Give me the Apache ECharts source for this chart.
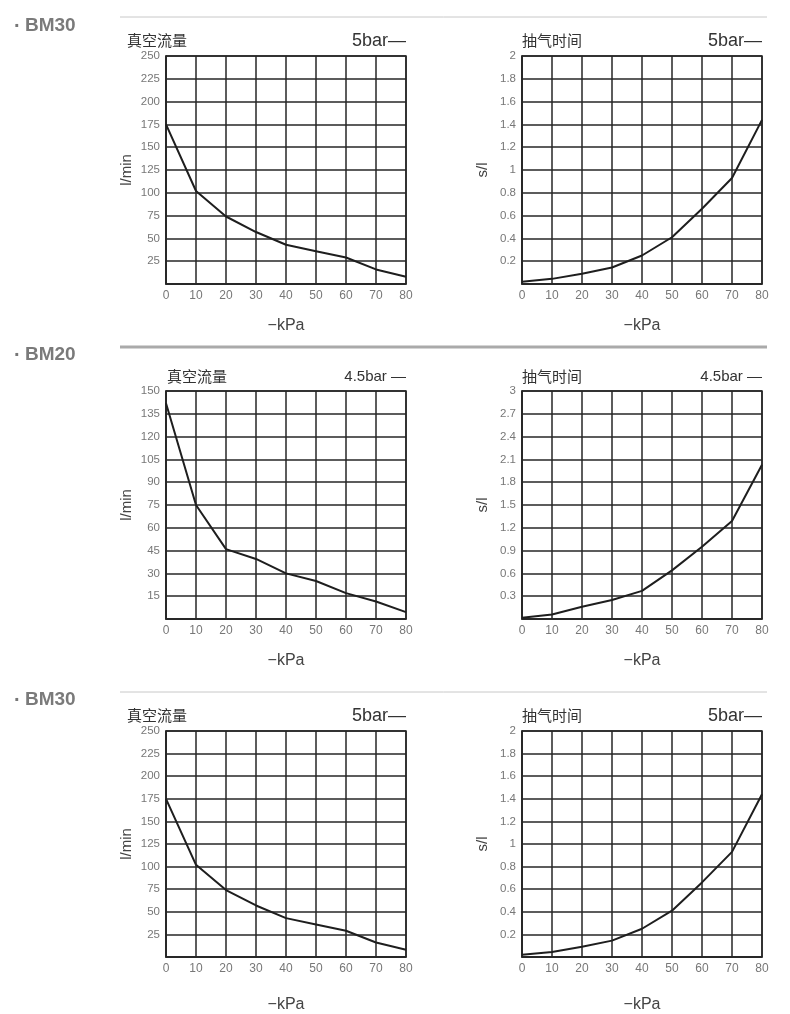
<!DOCTYPE html>
<html>
<head>
<meta charset="utf-8">
<script src="https://cdn.jsdelivr.net/npm/echarts@6/dist/echarts.min.js"></script>
<style>
html,body{margin:0;padding:0;background:#fff;}
#c{width:790px;height:1014px;}
</style>
</head>
<body>
<div id="c"></div>
<script>
// ---- data ----
const kPa = [0, 10, 20, 30, 40, 50, 60, 70, 80];
const bm30Flow = [175, 102, 74, 57, 43, 36, 29, 16, 8];
const bm30Time = [0.02, 0.045, 0.09, 0.145, 0.25, 0.41, 0.66, 0.93, 1.44];
const bm20Flow = [142, 75, 46, 39.5, 30, 25, 17, 11.5, 4.5];
const bm20Time = [0.015, 0.06, 0.16, 0.25, 0.37, 0.64, 0.95, 1.29, 2.03];
const sections = ['BM30', 'BM20', 'BM30'];
const flowTitle = '真空流量';
const timeTitle = '抽气时间';
const pressureLabels = ['5bar—', '4.5bar —', '5bar—'];
const flowAxes = [{max: 250, interval: 25}, {max: 150, interval: 15}, {max: 250, interval: 25}];
const timeAxes = [{max: 2, interval: 0.2}, {max: 3, interval: 0.3}, {max: 2, interval: 0.2}];

// ---- layout ----
const rowTops = [56, 391, 731];
const plotH = 228, plotW = 240;
const lefts = [166, 522];
const headerY = [25, 354, 699];
const ruleY = [17, 347, 692];
const ruleW = [1, 3, 1];
const titleY = [42, 378, 717];
const flowTitleX = [127, 167, 127];

const gridColor = '#262626';
const grids = [], xAxes = [], yAxes = [], series = [], graphics = [];

function fmtY(v) {
  if (v === 0) return '';
  return String(Math.round(v * 10) / 10);
}

for (let r = 0; r < 3; r++) {
  const flow = r === 1 ? bm20Flow : bm30Flow;
  const time = r === 1 ? bm20Time : bm30Time;
  for (let c = 0; c < 2; c++) {
    const gi = grids.length;
    grids.push({left: lefts[c], top: rowTops[r], width: plotW, height: plotH,
      show: true, borderColor: gridColor, borderWidth: 1.5, backgroundColor: 'transparent'});
    xAxes.push({
      type: 'value', gridIndex: gi, min: 0, max: 80, interval: 10,
      name: '−kPa', nameLocation: 'middle', nameGap: r === 2 ? 40 : 34,
      nameTextStyle: {fontSize: 16, color: '#444', fontFamily: 'Liberation Sans'},
      axisLine: {show: true, lineStyle: {color: gridColor, width: 1.5}},
      axisTick: {show: false},
      axisLabel: {fontSize: 12, color: '#777', margin: 6, fontFamily: 'Liberation Sans'},
      splitLine: {show: true, lineStyle: {color: gridColor, width: 1.5}}
    });
    const ax = c === 0 ? flowAxes[r] : timeAxes[r];
    yAxes.push({
      type: 'value', gridIndex: gi, min: 0, max: ax.max, interval: ax.interval,
      name: c === 0 ? 'l/min' : 's/l', nameLocation: 'middle', nameGap: 32,
      nameTextStyle: {fontSize: 15, color: '#444', fontFamily: 'Liberation Sans'},
      axisLine: {show: true, lineStyle: {color: gridColor, width: 1.5}},
      axisTick: {show: false},
      axisLabel: {fontSize: 11.5, color: '#777', margin: 6, formatter: fmtY, fontFamily: 'Liberation Sans'},
      splitLine: {show: true, lineStyle: {color: gridColor, width: 1.5}}
    });
    const vals = c === 0 ? flow : time;
    series.push({
      type: 'line', xAxisIndex: gi, yAxisIndex: gi,
      data: kPa.map((k, i) => [k, vals[i]]),
      symbol: 'none', smooth: false,
      lineStyle: {color: '#1e1e1e', width: 2}
    });
    // chart titles
    graphics.push({type: 'text', left: c === 0 ? flowTitleX[r] : lefts[c], top: titleY[r] - 9,
      style: {text: c === 0 ? flowTitle : timeTitle, fontSize: 15, fill: '#333',
        fontFamily: 'Noto Sans CJK SC'}});
    const pfs = r === 1 ? 15 : 18;
    graphics.push({type: 'text', right: 790 - (lefts[c] + plotW), top: titleY[r] - pfs / 2 - 1,
      style: {text: pressureLabels[r], fontSize: pfs, fill: '#333', fontFamily: 'Liberation Sans'}});
  }
  // section header
  graphics.push({type: 'text', left: 14, top: headerY[r] - 9,
    style: {text: '·', fontSize: 20, fontWeight: 'bold', fill: '#777', fontFamily: 'Liberation Sans'}});
  graphics.push({type: 'text', left: 25, top: headerY[r] - 9,
    style: {text: sections[r], fontSize: 19, fontWeight: 'bold', fill: '#7a7a7a', fontFamily: 'Liberation Sans'}});
  graphics.push({type: 'line', shape: {x1: 120, y1: ruleY[r], x2: 767, y2: ruleY[r]},
    style: {stroke: r === 1 ? '#aaa' : '#c8c8c8', lineWidth: ruleW[r]}});
}

const chart = echarts.init(document.getElementById('c'), null, {renderer: 'canvas'});
chart.setOption({
  backgroundColor: '#fff',
  animation: false,
  grid: grids,
  xAxis: xAxes,
  yAxis: yAxes,
  series: series,
  graphic: graphics
});
</script>
</body>
</html>
